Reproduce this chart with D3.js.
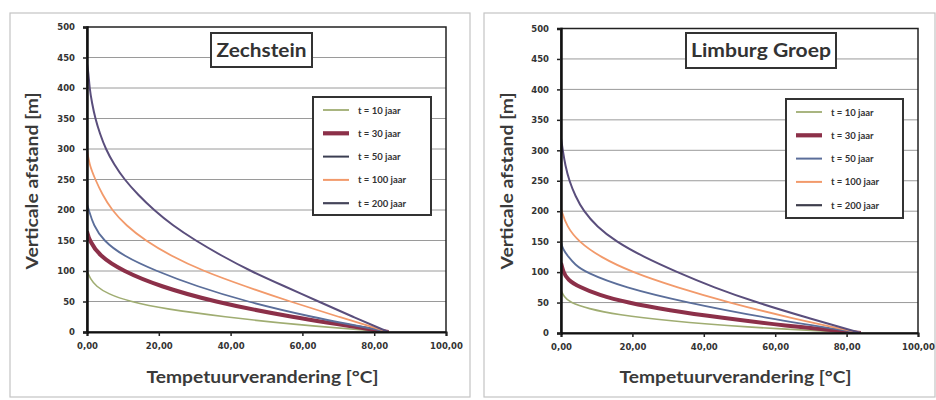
<!DOCTYPE html>
<html lang="nl">
<head>
<meta charset="UTF-8">
<title>Temperatuurverandering Zechstein / Limburg Groep</title>
<script src="https://d3js.org/d3.v7.min.js"></script>
<style>
  body { margin: 0; background: #fff; }
  svg { display: block; font-family: Lato, "Open Sans", sans-serif; }
  .grid line { stroke: #9a9a9a; stroke-width: 1; }
  .axis-title { font-weight: bold; font-size: 17px; fill: #3a3a3a; }
</style>
</head>
<body>
<div id="chart"></div>
<script>
const seriesLabels = ["t = 10 jaar", "t = 30 jaar", "t = 50 jaar", "t = 100 jaar", "t = 200 jaar"];
const seriesColors = ["#a0ad72", "#8c3049", "#5b6e9a", "#f29a6b", "#5a4e7c"];
const seriesWidths = [1.6, 4, 1.8, 1.8, 2];
const xTicks = [0, 20, 40, 60, 80, 100];
const yTicks = [0, 50, 100, 150, 200, 250, 300, 350, 400, 450, 500];

// [temperatuurverandering °C, verticale afstand m]
const zech10 = [[0, 100], [0.9, 87.5], [2.5, 75], [5.8, 62.5], [11.8, 50], [22, 37.5], [38, 25], [57, 12.5], [84, 0]];
const zech30 = [[0, 165], [0.65, 150], [3.4, 125], [9.9, 100], [20.2, 75], [35, 50], [56, 25], [84, 0]];
const zech50 = [[0, 210], [0.5, 200], [1.8, 175], [4.5, 150], [10, 125], [19.2, 100], [30.5, 75], [44.3, 50], [62, 25], [84, 0]];
const zech100 = [[0, 300], [0.6, 275], [2.3, 250], [4.3, 225], [6.9, 200], [10.8, 175], [16.2, 150], [23.3, 125], [32.3, 100], [44, 75], [56.5, 50], [70, 25], [84, 0]];
const zech200 = [[0, 440], [0.4, 425], [0.7, 400], [1.4, 375], [2.3, 350], [3.6, 325], [5.2, 300], [7.5, 275], [10.4, 250], [14.2, 225], [18.6, 200], [23.8, 175], [30.2, 150], [37.5, 125], [45.5, 100], [55, 75], [64.5, 50], [74, 25], [84, 0]];

const limb10 = [[0, 70], [0.8, 60], [2.5, 50], [7.5, 40], [15.8, 30], [30, 20], [50, 10], [84, 0]];
const limb30 = [[0, 115], [0.65, 100], [1.8, 87.5], [5.3, 75], [10.5, 62.5], [18.4, 50], [30, 37.5], [45, 25], [62, 12.5], [84, 0]];
const limb50 = [[0, 150], [0.5, 137.5], [2.1, 125], [3.9, 112.5], [6.7, 100], [17.5, 75], [35.2, 50], [57, 25], [84, 0]];
const limb100 = [[0, 205], [0.2, 200], [1.6, 175], [4.9, 150], [10.9, 125], [19.8, 100], [32.4, 75], [47, 50], [64, 25], [84, 0]];
const limb200 = [[0, 320], [0.5, 300], [1.2, 275], [2.3, 250], [4, 225], [6.3, 200], [10, 175], [15.4, 150], [23.1, 125], [32.5, 100], [42.7, 75], [54.8, 50], [69, 25], [84, 0]];

const svg = d3.select("#chart").append("svg")
  .attr("width", 936)
  .attr("height", 400);

function drawPanel(p, id) {
  const g = svg.append("g");

  // outer frame
  g.append("rect")
    .attr("x", p.frame[0]).attr("y", p.frame[1])
    .attr("width", p.frame[2] - p.frame[0]).attr("height", p.frame[3] - p.frame[1])
    .attr("fill", "#fff").attr("stroke", "#c4c4c4").attr("stroke-width", 1.2);

  const x = d3.scaleLinear().domain([0, 100]).range([p.left, p.right]);
  const y = d3.scaleLinear().domain([0, 500]).range([p.bottom, p.top]);

  svg.append("clipPath").attr("id", id)
    .append("rect")
    .attr("x", p.left).attr("y", p.top)
    .attr("width", p.right - p.left).attr("height", p.bottom - p.top);

  // horizontal gridlines
  g.append("g").attr("class", "grid")
    .selectAll("line")
    .data(yTicks.slice(1, -1))
    .join("line")
    .attr("x1", p.left).attr("x2", p.right)
    .attr("y1", d => y(d)).attr("y2", d => y(d));

  // curves (smoothed through the read points)
  const line = d3.line()
    .x(d => x(d[0]))
    .y(d => y(d[1]))
    .curve(d3.curveBasis);

  const curves = g.append("g").attr("clip-path", `url(#${id})`);
  p.series.forEach((s, i) => {
    curves.append("path")
      .datum(s)
      .attr("d", line)
      .attr("fill", "none")
      .attr("stroke", seriesColors[i])
      .attr("stroke-width", seriesWidths[i])
      .attr("stroke-linejoin", "round");
  });

  // plot border
  g.append("rect")
    .attr("x", p.left).attr("y", p.top)
    .attr("width", p.right - p.left).attr("height", p.bottom - p.top)
    .attr("fill", "none").attr("stroke", "#222").attr("stroke-width", 1.5);

  // axes
  const xAxis = d3.axisBottom(x).tickValues(xTicks).tickSize(4).tickPadding(7)
    .tickFormat(d => d3.format(".2f")(d).replace(".", ","));
  g.append("g")
    .attr("transform", `translate(0,${p.bottom})`)
    .call(xAxis)
    .call(a => a.select(".domain").attr("stroke", "#111").attr("stroke-width", 2));

  const yAxis = d3.axisLeft(y).tickValues(yTicks).tickSize(4).tickPadding(8);
  g.append("g")
    .attr("transform", `translate(${p.left},0)`)
    .call(yAxis)
    .call(a => a.select(".domain").attr("stroke", "#111").attr("stroke-width", 2.5));

  g.selectAll(".tick line").attr("stroke", "#222").attr("stroke-width", 1.5);
  g.selectAll(".tick text")
    .attr("font-family", "'DejaVu Sans', sans-serif")
    .attr("font-weight", "bold")
    .attr("font-size", 8.5)
    .attr("fill", "#333");

  // axis titles
  g.append("text")
    .attr("class", "axis-title")
    .attr("x", (p.left + p.right) / 2 - 4)
    .attr("y", 383)
    .attr("text-anchor", "middle")
    .attr("textLength", 232)
    .attr("lengthAdjust", "spacingAndGlyphs")
    .text("Tempetuurverandering [°C]");

  g.append("text")
    .attr("class", "axis-title")
    .attr("transform", `translate(${p.yTitleX},181) rotate(-90)`)
    .attr("text-anchor", "middle")
    .attr("textLength", 177)
    .attr("lengthAdjust", "spacingAndGlyphs")
    .text("Verticale afstand [m]");

  // title box
  g.append("rect")
    .attr("x", p.titleBox[0]).attr("y", p.titleBox[1])
    .attr("width", p.titleBox[2]).attr("height", p.titleBox[3])
    .attr("fill", "#fff").attr("stroke", "#333").attr("stroke-width", 2);
  g.append("text")
    .attr("x", p.titleBox[0] + p.titleBox[2] / 2)
    .attr("y", p.titleBox[1] + p.titleBox[3] / 2 + 6.5)
    .attr("text-anchor", "middle")
    .attr("font-weight", "bold")
    .attr("font-size", 18)
    .attr("fill", "#333")
    .attr("textLength", p.titleLen)
    .attr("lengthAdjust", "spacingAndGlyphs")
    .text(p.title);

  // legend
  const lg = g.append("g").attr("transform", `translate(${p.legend[0]},${p.legend[1]})`);
  lg.append("rect")
    .attr("width", p.legend[2]).attr("height", p.legend[3])
    .attr("fill", "#fff").attr("stroke", "#333").attr("stroke-width", 2);
  const items = lg.selectAll("g.item")
    .data(seriesLabels)
    .join("g")
    .attr("class", "item")
    .attr("transform", (d, i) => `translate(0,${13 + i * 23.3})`);
  items.append("line")
    .attr("x1", 10).attr("x2", 36)
    .attr("stroke", (d, i) => p.legendColors[i])
    .attr("stroke-width", (d, i) => seriesWidths[i] + 0.2);
  items.append("text")
    .attr("x", 45).attr("y", 3.5)
    .attr("font-weight", "bold")
    .attr("font-size", 9.5)
    .attr("fill", "#333")
    .text(d => d);
}

drawPanel({
  frame: [10, 13, 470, 397],
  left: 87, right: 446, top: 27, bottom: 332,
  yTitleX: 38,
  title: "Zechstein", titleBox: [211, 33, 101, 34], titleLen: 90,
  legend: [313, 97, 118, 118],
  legendColors: [seriesColors[0], seriesColors[1], "#3b3e52", seriesColors[3], "#45455a"],
  series: [zech10, zech30, zech50, zech100, zech200]
}, "clipL");

drawPanel({
  frame: [484, 13, 935, 397],
  left: 561, right: 918, top: 28.5, bottom: 333,
  yTitleX: 513,
  title: "Limburg Groep", titleBox: [686, 33, 150, 35], titleLen: 140,
  legend: [786, 99, 117, 119],
  legendColors: [seriesColors[0], seriesColors[1], seriesColors[2], seriesColors[3], "#3e3e4c"],
  series: [limb10, limb30, limb50, limb100, limb200]
}, "clipR");
</script>
</body>
</html>
